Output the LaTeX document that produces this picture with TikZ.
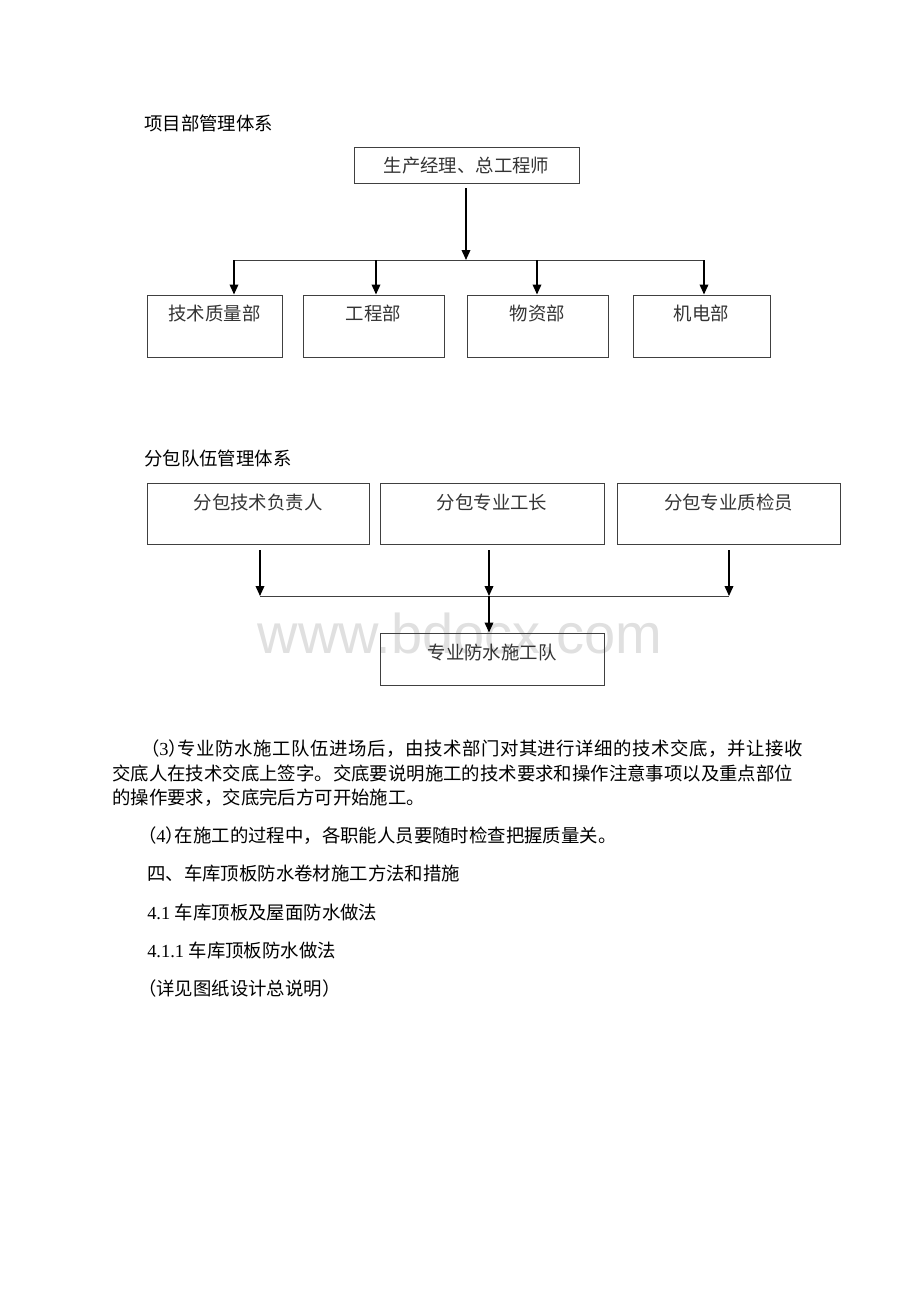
\documentclass[tikz,border=0pt]{standalone}
\usepackage{fontspec}
\usepackage{tikz}
\usetikzlibrary{arrows.meta}
\setmainfont{Liberation Serif}
\newfontfamily\cjk{Noto Sans CJK SC}
\newfontfamily\cjkw[LetterSpace=3]{Noto Sans CJK SC}
\newfontfamily\cjkh[RawFeature=+halt]{Noto Sans CJK SC}
\newfontfamily\wmfont{Liberation Sans}
\newcommand\zh{\cjk\fontsize{13.8}{16}\selectfont}
\newcommand\lat[1]{{\rmfamily #1}}
\newcommand\kh[1]{{\cjkh #1}}

\tikzset{
  box/.style={draw=black!75, line width=0.75pt, inner sep=0pt, font=\zh, text=black!80},
  deptbox/.style={box, minimum width=#1, minimum height=46.5pt, text height=18.75pt, text depth=27.75pt},
  teambox/.style={box, minimum width=#1, minimum height=45.75pt, text height=19.5pt, text depth=26.25pt},
  txt/.style={anchor=west, inner sep=0pt, font=\zh},
  arr/.style={-{Triangle[length=7.5pt,width=6.5pt]}, line width=1.1pt},
  link/.style={draw=black!75, line width=0.75pt}
}

\begin{document}
\begin{tikzpicture}[x=0.75pt, y=-0.75pt]
    \useasboundingbox (0,0) rectangle (920,1302);
    % watermark
    \node (wm) [anchor=base, inner sep=0pt, text=black!12, font=\wmfont\fontsize{42}{42}\selectfont] at (460,653) {www.bdocx.com};

    % project department
    \node (t1) [txt] at (144,123) {项目部管理体系};
    \node (zj) [box, minimum width=168.75pt, minimum height=26.25pt] at (466.5,165.5) {生产经理、总工程师};
    \node (jszl) [deptbox=101.25pt] at (214.5,326) {技术质量部};
    \node (gcb) [deptbox=105.75pt] at (373.5,326) {工程部};
    \node (wzb) [deptbox=105.75pt] at (537.5,326) {物资部};
    \node (jdb) [deptbox=102.75pt] at (701.5,326) {机电部};
    \coordinate (zjb) at (466,188);
    \coordinate (h0) at (466,260);
    \coordinate (h1) at (234,260);
    \coordinate (h2) at (376,260);
    \coordinate (h3) at (537,260);
    \coordinate (h4) at (704,260);
    \draw[arr] (zjb) -- (h0);
    \draw[link] (h1) -- (h4);
    \draw[arr] (h1) -- (h1 |- jszl.north);
    \draw[arr] (h2) -- (h2 |- gcb.north);
    \draw[arr] (h3) -- (h3 |- wzb.north);
    \draw[arr] (h4) -- (h4 |- jdb.north);

    % subcontractor team
    \node (t2) [txt] at (144,458) {分包队伍管理体系};
    \node (fbjs) [teambox=166.5pt] at (258,513.5) {分包技术负责人};
    \node (fbgz) [teambox=168pt] at (492,513.5) {分包专业工长};
    \node (fbzj) [teambox=167.25pt] at (728.5,513.5) {分包专业质检员};
    \node (zysg) [box, minimum width=168pt, minimum height=39pt, text height=19.5pt, text depth=19.5pt] at (492,659) {专业防水施工队};
    \coordinate (a1) at (260,550);
    \coordinate (a2) at (489,550);
    \coordinate (a3) at (729,550);
    \coordinate (b1) at (260,596);
    \coordinate (b2) at (489,596);
    \coordinate (b3) at (729,596);
    \draw[arr] (a1) -- (b1);
    \draw[arr] (a2) -- (b2);
    \draw[arr] (a3) -- (b3);
    \draw[link] (b1) -- (b3);
    \draw[arr] (b2) -- (b2 |- zysg.north);

    % text below
    \node (p1) [txt] at (150,749) {\kh{（}\lat{3}\kh{）}{\cjkw 专业防水施工队伍进场后，由技术部门对其进行详细的技术交底，并让接收}};
    \node (p2) [txt] at (112,773) {交底人在技术交底上签字。交底要说明施工的技术要求和操作注意事项以及重点部位};
    \node (p3) [txt] at (112,798) {的操作要求，交底完后方可开始施工。};
    \node (p4) [txt] at (147,836) {\kh{（}\lat{4}\kh{）}在施工的过程中，各职能人员要随时检查把握质量关。};
    \node (p5) [txt] at (147,873) {四、车库顶板防水卷材施工方法和措施};
    \node (p6) [txt] at (147,912) {\lat{4.1 }车库顶板及屋面防水做法};
    \node (p7) [txt] at (147,950) {\lat{4.1.1 }车库顶板防水做法};
    \node (p8) [txt] at (147,988) {\kh{（}详见图纸设计总说明\kh{）}};
\end{tikzpicture}
\end{document}
